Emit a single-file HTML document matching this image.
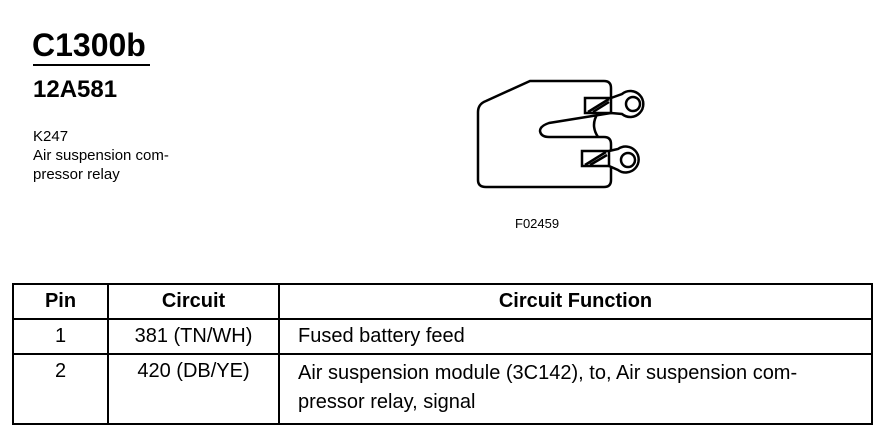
<!DOCTYPE html>
<html><head><style>
body{margin:0;width:886px;height:448px;background:#fff;font-family:"Liberation Sans",sans-serif;color:#000;position:relative;overflow:hidden}
.a{position:absolute;white-space:nowrap}
table{position:absolute;left:12px;top:283px;width:861px;border-collapse:collapse;font-size:20px;table-layout:fixed}
td{border:2px solid #000;padding:0 0 0 18px;height:33px;white-space:nowrap;overflow:visible}
td.c{text-align:center;padding:0}
</style></head><body>
<div class="a" style="left:32px;top:27px;font-size:32px;font-weight:bold">C1300b</div>
<div style="position:absolute;left:33px;top:64px;width:117px;height:2px;background:#000"></div>
<div class="a" style="left:33px;top:76px;font-size:24px;font-weight:bold">12A581</div>
<div class="a" style="left:33px;top:127px;font-size:15px;line-height:19px">K247<br>Air suspension com-<br>pressor relay</div>
<div class="a" style="left:515px;top:216px;font-size:13px">F02459</div>
<svg style="position:absolute;left:0;top:0" width="886" height="448">
<g fill="none" stroke="#000" stroke-width="2.5">
<path d="M478,112 Q478,104 486,101 L530,81 L604,81 Q611,81 611,88 L611,98"/>
<path d="M611,113 L549,123 Q540,126 540,131 Q541,137 549,137 L604,137 Q611,137 611,144 L611,150"/>
<path d="M611,166 L611,180 Q611,187 604,187 L486,187 Q478,187 478,180 L478,112"/>
<path d="M598,113 Q590,125 598,137"/>
<rect x="585" y="98" width="26" height="15"/>
<line x1="588" y1="112" x2="609" y2="99"/><line x1="593" y1="112" x2="609" y2="102"/>
<path d="M611,98 L622,94 A13,13 0 1 1 622,114 L611,113"/>
<circle cx="633" cy="104" r="7"/>
<rect x="582" y="151" width="27" height="15"/>
<line x1="585" y1="165" x2="606" y2="152"/><line x1="590" y1="165" x2="607" y2="155"/>
<path d="M609,151 L618,149 A13,13 0 1 1 618,170 L609,166"/>
<circle cx="628" cy="160" r="7"/>
</g></svg>
<table>
<colgroup><col style="width:95px"><col style="width:171px"><col></colgroup>
<tr style="height:35px;font-weight:bold"><td class="c">Pin</td><td class="c">Circuit</td><td class="c">Circuit Function</td></tr>
<tr><td class="c">1</td><td class="c">381 (TN/WH)</td><td>Fused battery feed</td></tr>
<tr style="vertical-align:top"><td class="c" style="padding-top:5px">2</td><td class="c" style="padding-top:5px">420 (DB/YE)</td><td style="padding-top:4px;padding-bottom:6px;line-height:29px">Air suspension module (3C142), to, Air suspension com-<br>pressor relay, signal</td></tr>
</table>
</body></html>
